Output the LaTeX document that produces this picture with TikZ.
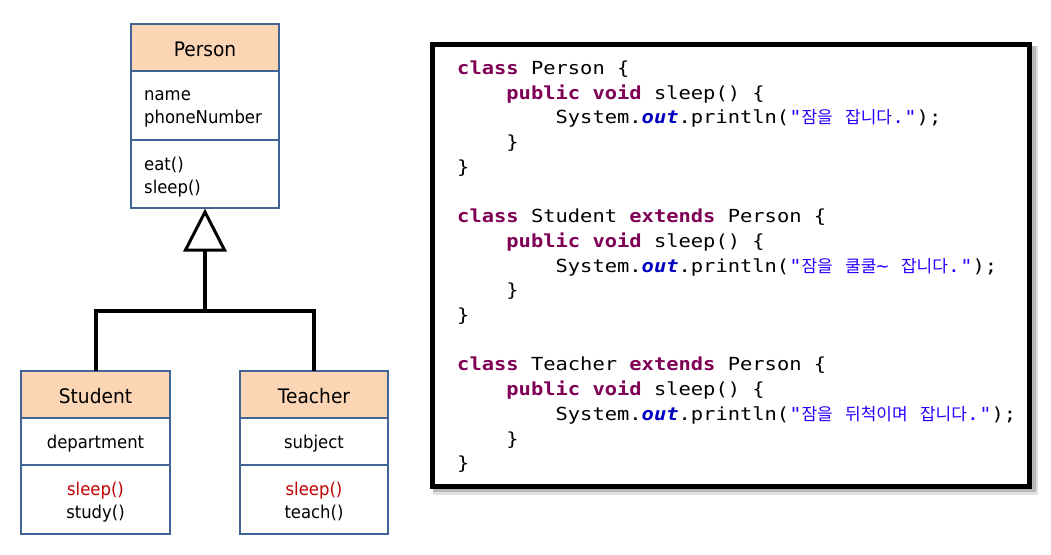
\documentclass[tikz,border=0pt]{standalone}
\usepackage{fontspec}
\usetikzlibrary{calc}
\newfontfamily\umlfont[FakeStretch=0.93]{DejaVu Sans}
\newfontfamily\codefont[FakeStretch=1.135]{DejaVu Sans Mono}
\newfontfamily\krfont{Noto Sans CJK KR}
\definecolor{umlblue}{RGB}{65,100,150}
\definecolor{peach}{RGB}{252,213,181}
\definecolor{kwc}{RGB}{127,0,85}
\definecolor{outc}{RGB}{0,0,192}
\definecolor{strc}{RGB}{42,0,255}
\definecolor{redm}{RGB}{192,0,0}
\newcommand\kw[1]{\textbf{\color{kwc}#1}}
\newcommand\outf[1]{\textbf{\textit{\color{outc}#1}}}
\newcommand\kr[1]{{\krfont\fontsize{17}{17}\selectfont #1}}
\newcommand\strq[1]{{\color{strc}#1}}
\tikzset{
  comp/.style={draw=umlblue, line width=2.5, fill=white, inner sep=0pt, outer sep=0pt},
  hdr/.style={comp, fill=peach},
  htxt/.style={anchor=base, inner sep=0pt, font=\umlfont\fontsize{20}{22}\selectfont},
  btxt/.style={anchor=base, inner sep=0pt, font=\umlfont\fontsize{17.7}{23}\selectfont},
  ltxt/.style={btxt, anchor=base west},
  gen/.style={line width=4, draw=black},
  codeline/.style={anchor=base west, inner sep=0pt, font=\codefont\fontsize{18}{18}\selectfont},
}
\begin{document}
\begin{tikzpicture}[x=1pt,y=-1pt]
\useasboundingbox (0,0) rectangle (1051,554);
% Person
\node[hdr, minimum width=148, minimum height=47] (ph) at (205,47.5) {};
\node[comp, minimum width=148, minimum height=69] (pa) at (205,105.5) {};
\node[comp, minimum width=148, minimum height=68] (pm) at (205,174) {};
\node[htxt] (pht) at (205,56) {Person};
\node[ltxt] (pa1) at (144,100.5) {name};
\node[ltxt] (pa2) at (144,123.5) {phoneNumber};
\node[ltxt] (pm1) at (144,170) {eat()};
\node[ltxt] (pm2) at (144,193) {sleep()};
% Student
\node[hdr, minimum width=149, minimum height=47] (sh) at (95.5,394.5) {};
\node[comp, minimum width=149, minimum height=47] (sa) at (95.5,441.5) {};
\node[comp, minimum width=149, minimum height=69] (sm) at (95.5,499.5) {};
\node[htxt] (sht) at (95.5,403) {Student};
\node[btxt] (sa1) at (95.5,448.5) {department};
\node[btxt, text=redm] (sm1) at (95.5,495) {sleep()};
\node[btxt] (sm2) at (95.5,518) {study()};
% Teacher
\node[hdr, minimum width=148, minimum height=47] (th) at (314,394.5) {};
\node[comp, minimum width=148, minimum height=47] (ta) at (314,441.5) {};
\node[comp, minimum width=148, minimum height=69] (tm) at (314,499.5) {};
\node[htxt] (tht) at (314,403) {Teacher};
\node[btxt] (ta1) at (314,448.5) {subject};
\node[btxt, text=redm] (tm1) at (314,495) {sleep()};
\node[btxt] (tm2) at (314,518) {teach()};
% generalization
\coordinate (tip) at (205,212);
\coordinate (base) at (205,250);
\coordinate (j) at (205,311);
\draw[gen, line join=miter] (sh.north) |- (j) -| (th.north);
\draw[gen] (j) -- (base);
\draw[line width=3, fill=white, line join=miter] (tip) -- ($(base)+(-19.5,0)$) -- ($(base)+(19.5,0)$) -- cycle;
% code box
\fill[black!12] (433,46) rectangle (1038,495);
\fill[black!28] (433,46) rectangle (1036,492);
\node[draw=black, line width=5, fill=white, minimum width=597, minimum height=442, inner sep=0pt] (code) at (731,265.5) {};
% code lines
\node[codeline] (c1) at (457,74.5) {\kw{class} Person \{};
\node[codeline] (c2) at (506.2,99.2) {\kw{public} \kw{void} sleep() \{};
\node[codeline] (c3) at (555.4,123.9) {System.\outf{out}.println(\strq{"\kr{잠을} \kr{잡니다}."});};
\node[codeline] (c4) at (506.2,148.6) {\}};
\node[codeline] (c5) at (457,173.3) {\}};
\node[codeline] (c6) at (457,222.7) {\kw{class} Student \kw{extends} Person \{};
\node[codeline] (c7) at (506.2,247.4) {\kw{public} \kw{void} sleep() \{};
\node[codeline] (c8) at (555.4,272.1) {System.\outf{out}.println(\strq{"\kr{잠을} \kr{쿨쿨}\string~ \kr{잡니다}."});};
\node[codeline] (c9) at (506.2,296.8) {\}};
\node[codeline] (c10) at (457,321.5) {\}};
\node[codeline] (c11) at (457,370.9) {\kw{class} Teacher \kw{extends} Person \{};
\node[codeline] (c12) at (506.2,395.6) {\kw{public} \kw{void} sleep() \{};
\node[codeline] (c13) at (555.4,420.3) {System.\outf{out}.println(\strq{"\kr{잠을} \kr{뒤척이며} \kr{잡니다}."});};
\node[codeline] (c14) at (506.2,445.0) {\}};
\node[codeline] (c15) at (457,469.7) {\}};
\end{tikzpicture}
\end{document}
